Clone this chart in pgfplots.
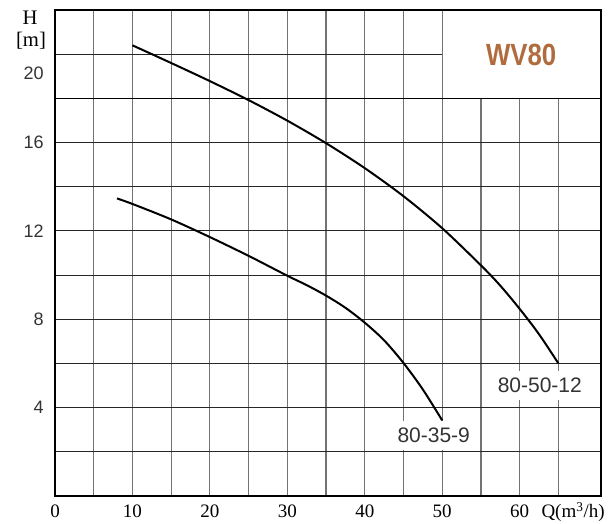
\documentclass[border=0pt]{standalone}
\usepackage{pgfplots}
\pgfplotsset{compat=1.18}
\usepackage{graphicx}
\usepackage{fontspec}
\setmainfont{Liberation Serif}
\newfontfamily\sansf{Liberation Sans}
\definecolor{wvbrown}{RGB}{176,108,62}
\begin{document}
\begin{tikzpicture}[x=1pt,y=1pt]
\useasboundingbox (0,0) rectangle (456,393);
\begin{axis}[
  at={(41.25pt,21pt)}, anchor=south west,
  scale only axis, width=409.5pt, height=364.5pt,
  xmin=0, xmax=70.5, ymin=0, ymax=22,
  xtick={0,10,...,60}, minor xtick={5,15,...,65},
  ytick={4,8,12,16}, minor ytick={2,6,10,14,18,20},
  extra y ticks={19.15}, extra y tick labels={20},
  extra y tick style={grid=none},
  grid=both, major tick length=0pt, minor tick length=0pt,
  major x grid style={black!55, line width=0.9pt},
  minor x grid style={black!55, line width=0.9pt},
  major y grid style={black!85, line width=0.8pt},
  minor y grid style={black!85, line width=0.8pt},
  axis line style={line width=1.1pt},
  xticklabel style={font=\fontsize{14.25}{16}\selectfont, inner sep=0pt, yshift=-6.75pt, anchor=north},
  yticklabel style={font=\sansf\fontsize{13.5}{16}\selectfont, text=black!80, inner sep=0pt, xshift=-8.25pt, anchor=east},
  /pgf/number format/assume math mode=true,
  clip=false,
]
\addplot[black, line width=1.5pt, smooth] coordinates {
  (10,20.4) (15,19.6) (20,18.78) (25,17.92) (30,16.99) (35,15.97)
  (40,14.84) (45,13.57) (50,12.12) (55,10.44) (57.5,9.52) (60,8.47) (62.5,7.32) (65,6.0)};
\addplot[black, line width=1.5pt, smooth] coordinates {
  (8,13.47) (10,13.22) (15,12.52) (20,11.72) (25,10.87) (30,9.97)
  (32.5,9.545) (35,9.07) (37.5,8.52) (40,7.845) (42.5,7.045) (45,6.02) (47.5,4.82) (50,3.42)};
\fill[white] (axis cs:50,18) rectangle (axis cs:70.5,22);
\draw[black!55, line width=0.9pt] (axis cs:50,18) -- (axis cs:50,22);
\draw[black, line width=1.1pt] (axis cs:0,18) -- (axis cs:70.5,18);
\draw[black, line width=1.1pt] (rel axis cs:0,0) rectangle (rel axis cs:1,1);
\node[text=wvbrown, font=\sansf\bfseries\fontsize{23}{26}\selectfont] at (axis cs:60.2,19.95) {\scalebox{0.84}[1]{WV80}};
\node[fill=white, inner xsep=2pt, inner ysep=5pt, text=black!80, font=\sansf\fontsize{15.75}{18}\selectfont] at (axis cs:62.6,5.0) {80-50-12};
\node[fill=white, inner xsep=2pt, inner ysep=5pt, text=black!80, font=\sansf\fontsize{15.75}{18}\selectfont] at (axis cs:48.9,2.74) {80-35-9};
\node[anchor=base, inner sep=0pt, yshift=-16.5pt, font=\fontsize{14.25}{16}\selectfont] at (axis cs:66.9,0) {Q(m\textsuperscript{3}/h)};
\end{axis}
\node[anchor=base, inner sep=0pt, font=\fontsize{15.5}{17}\selectfont] at (22.5,374.25) {H};
\node[anchor=base, inner sep=0pt, font=\fontsize{15.5}{17}\selectfont] at (23.25,357.75) {[m]};
\end{tikzpicture}
\end{document}
